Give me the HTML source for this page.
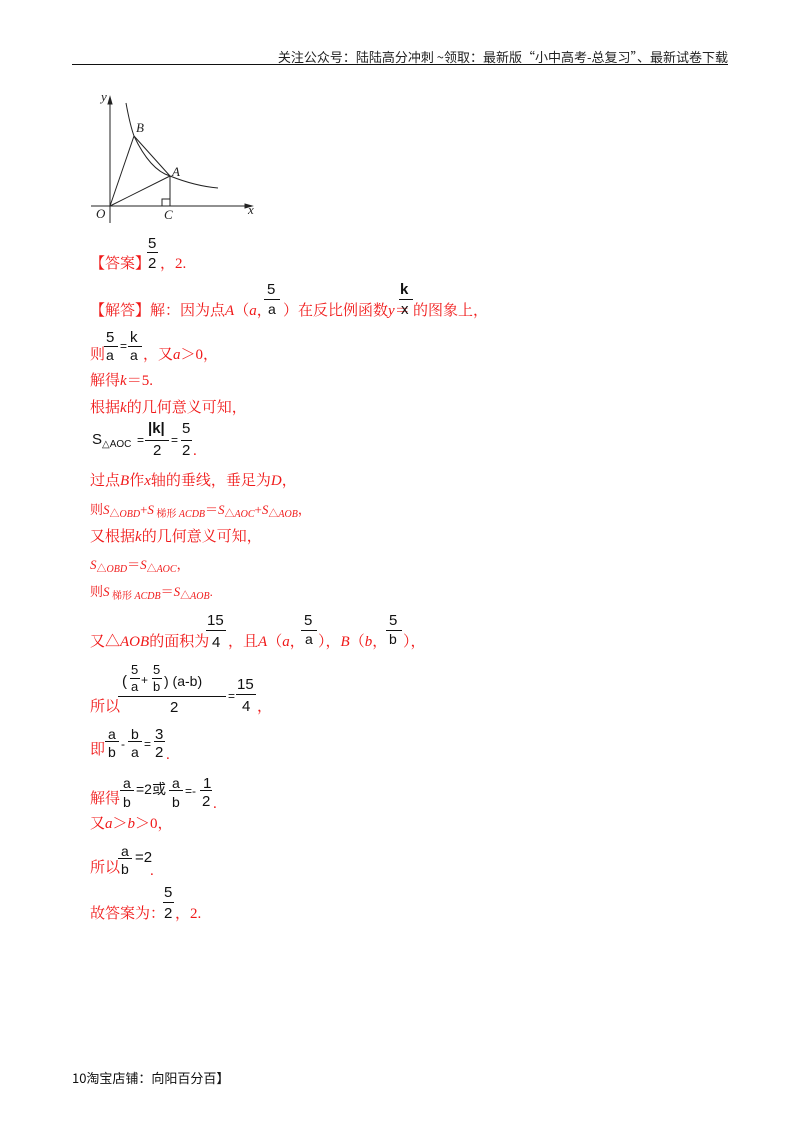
<!DOCTYPE html>
<html><head><meta charset="utf-8"><style>
body{margin:0;width:800px;height:1132px;background:#fff;position:relative;overflow:hidden;font-family:"Liberation Serif","Noto Serif CJK SC","Noto Sans CJK SC",serif}
.t{position:absolute;white-space:nowrap;line-height:1;font-size:15px}
.r{color:#f01818}
.k{color:#111;font-family:"Liberation Sans",sans-serif}
.i{font-style:italic}
.hl{position:absolute;height:1px;background:#111}
sub{font-size:10px;vertical-align:-3px}
.s{font-size:13px}
</style></head><body>
<div class="t" style="right:72px;top:50px;font-size:13px;color:#222;font-family:'Noto Sans CJK SC',sans-serif">关注公众号：陆陆高分冲刺 ~领取：最新版“小中高考-总复习”、最新试卷下载</div>
<div class="hl" style="left:72px;top:64px;width:656px"></div>

<svg style="position:absolute;left:0;top:0" width="300" height="230">
<g stroke="#222" stroke-width="1" fill="none">
<line x1="110" y1="100" x2="110" y2="223"/>
<line x1="91" y1="206" x2="250" y2="206"/>
<polygon points="110,97 108,104 112,104" fill="#222"/>
<polygon points="252,206 245,204 245,208" fill="#222"/>
<path d="M126,103 Q130,125 134,136 Q150,170 170,176 Q195,186 218,188"/>
<line x1="110" y1="206" x2="134" y2="136"/>
<line x1="110" y1="206" x2="170" y2="176"/>
<line x1="134" y1="136" x2="170" y2="176"/>
<line x1="170" y1="176" x2="170" y2="206"/>
<polyline points="162,206 162,199 170,199"/>
</g>
<g font-family="Liberation Serif" font-style="italic" font-size="13" fill="#222">
<text x="101" y="101">y</text><text x="136" y="132">B</text><text x="172" y="176">A</text>
<text x="96" y="218">O</text><text x="164" y="219">C</text><text x="248" y="214">x</text>
</g></svg>

<!-- answer -->
<div class="t r" style="left:90px;top:257px">【答案】</div>
<div class="t k" style="left:148px;top:236px">5</div><div class="hl" style="left:147px;top:252px;width:11px"></div><div class="t k" style="left:148px;top:256px">2</div>
<div class="t r" style="left:160px;top:257px">，2.</div>

<div class="t r" style="left:90px;top:304px">【解答】解：因为点<i>A</i>（<i>a</i>，</div>
<div class="t k" style="left:267px;top:282px">5</div><div class="hl" style="left:264px;top:299px;width:16px"></div><div class="t k" style="left:268px;top:302px;font-size:14px">a</div>
<div class="t r" style="left:283px;top:304px">）在反比例函数<i>y</i>＝</div>
<div class="t k" style="left:400px;top:282px;font-weight:bold">k</div><div class="hl" style="left:399px;top:299px;width:14px"></div><div class="t k" style="left:401px;top:302px">x</div>
<div class="t r" style="left:413px;top:304px">的图象上，</div>

<div class="t r" style="left:90px;top:348px">则</div>
<div class="t k" style="left:106px;top:330px">5</div><div class="hl" style="left:104px;top:346px;width:14px"></div><div class="t k" style="left:106px;top:348px;font-size:14px">a</div>
<div class="t k" style="left:120px;top:340px;font-size:12px">=</div>
<div class="t k" style="left:130px;top:330px">k</div><div class="hl" style="left:128px;top:346px;width:14px"></div><div class="t k" style="left:130px;top:348px;font-size:14px">a</div>
<div class="t r" style="left:143px;top:348px">，又<i>a</i>＞0，</div>
<div class="t r" style="left:90px;top:374px">解得<i>k</i>＝5.</div>
<div class="t r" style="left:90px;top:401px">根据<i>k</i>的几何意义可知，</div>

<div class="t k" style="left:92px;top:432px;font-size:15px">S<sub>△AOC</sub></div>
<div class="t k" style="left:137px;top:434px;font-size:12px">=</div>
<div class="t k" style="left:148px;top:421px;font-weight:bold">|k|</div><div class="hl" style="left:145px;top:440px;width:24px"></div><div class="t k" style="left:153px;top:443px">2</div>
<div class="t k" style="left:171px;top:434px;font-size:12px">=</div>
<div class="t k" style="left:182px;top:421px">5</div><div class="hl" style="left:181px;top:440px;width:11px"></div><div class="t k" style="left:182px;top:443px">2</div>
<div class="t r" style="left:193px;top:444px">.</div>

<div class="t r" style="left:90px;top:474px">过点<i>B</i>作<i>x</i>轴的垂线，垂足为<i>D</i>，</div>
<div class="t r s" style="left:90px;top:503px">则<i>S</i><sub>△<i>OBD</i></sub>+<i>S</i><sub> 梯形 <i>ACDB</i></sub>＝<i>S</i><sub>△<i>AOC</i></sub>+<i>S</i><sub>△<i>AOB</i></sub>，</div>
<div class="t r" style="left:90px;top:530px">又根据<i>k</i>的几何意义可知，</div>
<div class="t r s" style="left:90px;top:558px"><i>S</i><sub>△<i>OBD</i></sub>＝<i>S</i><sub>△<i>AOC</i></sub>，</div>
<div class="t r s" style="left:90px;top:585px">则<i>S</i><sub> 梯形 <i>ACDB</i></sub>＝<i>S</i><sub>△<i>AOB</i></sub>.</div>

<div class="t r" style="left:90px;top:635px">又△<i>AOB</i>的面积为</div>
<div class="t k" style="left:207px;top:613px">15</div><div class="hl" style="left:206px;top:630px;width:20px"></div><div class="t k" style="left:212px;top:635px">4</div>
<div class="t r" style="left:228px;top:635px">，且<i>A</i>（<i>a</i>，</div>
<div class="t k" style="left:304px;top:613px">5</div><div class="hl" style="left:301px;top:630px;width:16px"></div><div class="t k" style="left:305px;top:632px;font-size:14px">a</div>
<div class="t r" style="left:318px;top:635px">），<i>B</i>（<i>b</i>，</div>
<div class="t k" style="left:389px;top:613px">5</div><div class="hl" style="left:386px;top:630px;width:16px"></div><div class="t k" style="left:389px;top:632px;font-size:14px">b</div>
<div class="t r" style="left:403px;top:635px">），</div>

<div class="t k" style="left:122px;top:674px">(</div>
<div class="t k" style="left:131px;top:663px;font-size:13px">5</div><div class="hl" style="left:130px;top:678px;width:10px"></div><div class="t k" style="left:131px;top:680px;font-size:13px">a</div>
<div class="t k" style="left:141px;top:674px;font-size:12px">+</div>
<div class="t k" style="left:153px;top:663px;font-size:13px">5</div><div class="hl" style="left:152px;top:678px;width:10px"></div><div class="t k" style="left:153px;top:680px;font-size:13px">b</div>
<div class="t k" style="left:164px;top:674px;font-size:14px">) (a-b)</div>
<div class="hl" style="left:118px;top:696px;width:108px"></div>
<div class="t k" style="left:170px;top:700px">2</div>
<div class="t k" style="left:228px;top:690px;font-size:12px">=</div>
<div class="t k" style="left:237px;top:677px">15</div><div class="hl" style="left:236px;top:694px;width:20px"></div><div class="t k" style="left:242px;top:699px">4</div>
<div class="t r" style="left:257px;top:700px">，</div>
<div class="t r" style="left:90px;top:700px">所以</div>

<div class="t r" style="left:90px;top:743px">即</div>
<div class="t k" style="left:108px;top:727px;font-size:14px">a</div><div class="hl" style="left:105px;top:741px;width:14px"></div><div class="t k" style="left:108px;top:745px;font-size:14px">b</div>
<div class="t k" style="left:121px;top:738px;font-size:12px">-</div>
<div class="t k" style="left:131px;top:727px;font-size:14px">b</div><div class="hl" style="left:128px;top:741px;width:14px"></div><div class="t k" style="left:131px;top:745px;font-size:14px">a</div>
<div class="t k" style="left:144px;top:738px;font-size:12px">=</div>
<div class="t k" style="left:155px;top:727px">3</div><div class="hl" style="left:154px;top:741px;width:11px"></div><div class="t k" style="left:155px;top:745px">2</div>
<div class="t r" style="left:166px;top:748px">.</div>

<div class="t r" style="left:90px;top:792px">解得</div>
<div class="t k" style="left:123px;top:776px;font-size:14px">a</div><div class="hl" style="left:120px;top:790px;width:14px"></div><div class="t k" style="left:123px;top:795px;font-size:14px">b</div>
<div class="t k" style="left:136px;top:782px;font-size:14px">=2或</div>
<div class="t k" style="left:172px;top:776px;font-size:14px">a</div><div class="hl" style="left:169px;top:790px;width:14px"></div><div class="t k" style="left:172px;top:795px;font-size:14px">b</div>
<div class="t k" style="left:185px;top:785px;font-size:12px">=-</div>
<div class="t k" style="left:203px;top:776px">1</div><div class="hl" style="left:200px;top:790px;width:12px"></div><div class="t k" style="left:202px;top:794px">2</div>
<div class="t r" style="left:213px;top:797px">.</div>

<div class="t r" style="left:90px;top:817px">又<i>a</i>＞<i>b</i>＞0，</div>

<div class="t r" style="left:90px;top:861px">所以</div>
<div class="t k" style="left:121px;top:844px;font-size:14px">a</div><div class="hl" style="left:118px;top:858px;width:14px"></div><div class="t k" style="left:121px;top:862px;font-size:14px">b</div>
<div class="t k" style="left:135px;top:850px;font-size:15px">=2</div>
<div class="t r" style="left:150px;top:864px">.</div>

<div class="t r" style="left:90px;top:907px">故答案为：</div>
<div class="t k" style="left:164px;top:885px">5</div><div class="hl" style="left:163px;top:902px;width:11px"></div><div class="t k" style="left:164px;top:906px">2</div>
<div class="t r" style="left:175px;top:907px">，2.</div>

<div class="t" style="left:72px;top:1071px;font-size:13px;color:#111;font-family:'Noto Sans CJK SC',sans-serif">10淘宝店铺：向阳百分百】</div>
</body></html>
